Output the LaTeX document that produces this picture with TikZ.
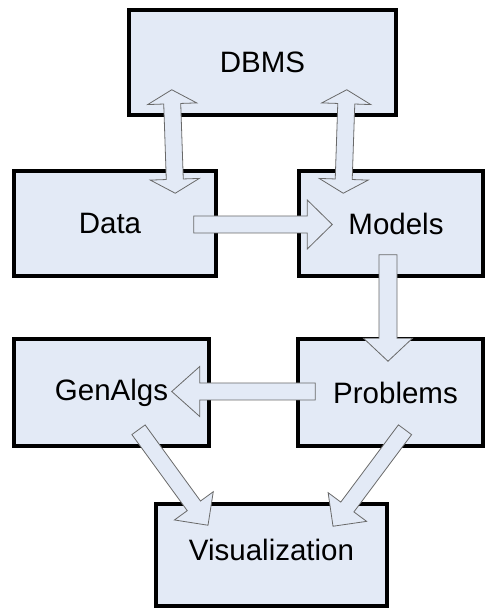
\documentclass[tikz,border=0pt]{standalone}
\usepackage{fontspec}
\setmainfont{Liberation Sans}
\usetikzlibrary{calc}

\definecolor{boxfill}{RGB}{227,234,246}
\definecolor{arrowline}{RGB}{105,105,105}

\tikzset{
  box/.style={draw=black, line width=3.5pt, fill=boxfill, inner sep=0pt},
  boxlabel/.style={font=\fontsize{29.5}{35}\selectfont, inner sep=0pt},
  blockarrow/.style={draw=arrowline, line width=0.8pt, fill=boxfill, line join=miter},
}

% single block arrow: #1 tail, #2 tip, #3 half shaft width, #4 half head width, #5 head length
\newcommand\singleblock[5]{%
  \coordinate (sbbase) at ($(#2)!#5!(#1)$);
  \draw[blockarrow]
    ($(#1)!#3!90:(#2)$) -- ($(sbbase)!#3!90:(#2)$) -- ($(sbbase)!#4!90:(#2)$)
    -- (#2)
    -- ($(sbbase)!#4!-90:(#2)$) -- ($(sbbase)!#3!-90:(#2)$) -- ($(#1)!#3!-90:(#2)$)
    -- cycle;}

% double-headed block arrow between #1 and #2
\newcommand\doubleblock[5]{%
  \coordinate (dbA) at ($(#1)!#5!(#2)$);
  \coordinate (dbB) at ($(#2)!#5!(#1)$);
  \draw[blockarrow]
    (#1) -- ($(dbA)!#4!90:(#2)$) -- ($(dbA)!#3!90:(#2)$)
    -- ($(dbB)!#3!90:(#2)$) -- ($(dbB)!#4!90:(#2)$)
    -- (#2)
    -- ($(dbB)!#4!-90:(#2)$) -- ($(dbB)!#3!-90:(#2)$)
    -- ($(dbA)!#3!-90:(#2)$) -- ($(dbA)!#4!-90:(#2)$)
    -- cycle;}

\begin{document}
\begin{tikzpicture}[x=1pt, y=1pt]
  \useasboundingbox (0,0) rectangle (487,610);

  % boxes
  \node[box, minimum width=267pt, minimum height=105pt] (dbms)     at (262.5,547.5) {};
  \node[box, minimum width=202pt, minimum height=105pt] (data)     at (115,386.5)   {};
  \node[box, minimum width=184pt, minimum height=105pt] (models)   at (391,386.5)   {};
  \node[box, minimum width=195pt, minimum height=107pt] (genalgs)  at (111.5,217.5) {};
  \node[box, minimum width=185pt, minimum height=107pt] (problems) at (390.5,217.5) {};
  \node[box, minimum width=231pt, minimum height=102pt] (vis)      at (271.5,55)    {};

  % box labels
  \node[boxlabel] (dbmslabel)  at ($(dbms.center)+(0,0)$)     {DBMS};
  \node[boxlabel] (datalabel)  at ($(data.center)+(-5,0)$)    {Data};
  \node[boxlabel] (modlabel)   at ($(models.center)+(5,0)$)   {Models};
  \node[boxlabel] (genlabel)   at ($(genalgs.center)+(0,0)$)  {GenAlgs};
  \node[boxlabel] (problabel)  at ($(problems.center)+(5,0)$) {Problems};
  \node[boxlabel] (vislabel)   at ($(vis.center)+(0,5)$)      {Visualization};

  % arrow end points
  \coordinate (dbmsL) at ($(dbms.south west)+(44.5,27)$);
  \coordinate (dataT) at ($(data.north east)+(-42.5,-24)$);
  \coordinate (dbmsR) at ($(dbms.south east)+(-51,27)$);
  \coordinate (modT)  at ($(models.north west)+(46,-24)$);
  \coordinate (dataR) at ($(data.east)+(-24,-1)$);
  \coordinate (modL)  at ($(models.west)+(35,-1)$);
  \coordinate (modB)  at ($(models.south)+(-3,23)$);
  \coordinate (probT) at ($(problems.north)+(-2.5,-24)$);
  \coordinate (probL) at ($(problems.west)+(19,1)$);
  \coordinate (genR)  at ($(genalgs.east)+(-39,1)$);
  \coordinate (genB)  at ($(genalgs.south)+(27,18)$);
  \coordinate (visL)  at ($(vis.north)+(-63.5,-23)$);
  \coordinate (probB) at ($(problems.south)+(14.5,18)$);
  \coordinate (visR)  at ($(vis.north)+(61.5,-24)$);

  % connectors
  \doubleblock{dbmsL}{dataT}{8.5pt}{24.5pt}{14pt}
  \doubleblock{dbmsR}{modT}{8.5pt}{24.5pt}{14pt}
  \singleblock{dataR}{modL}{8.5pt}{24.5pt}{25pt}
  \singleblock{modB}{probT}{9pt}{24.5pt}{23pt}
  \singleblock{probL}{genR}{8.5pt}{25pt}{28pt}
  \singleblock{genB}{visL}{8.2pt}{24pt}{24pt}
  \singleblock{probB}{visR}{8.2pt}{24pt}{24pt}
\end{tikzpicture}
\end{document}
